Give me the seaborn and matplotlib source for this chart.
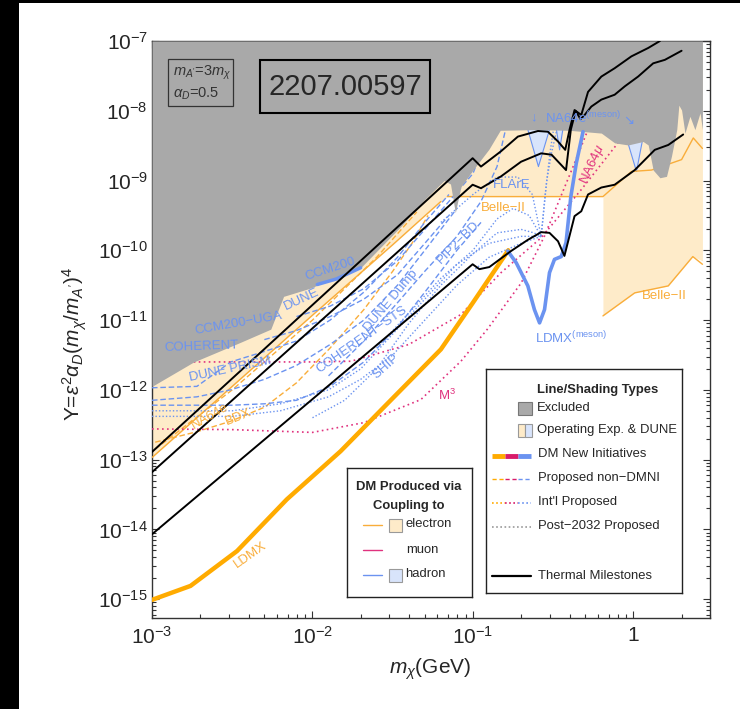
import numpy as np
import pandas as pd
import seaborn as sns
import matplotlib.pyplot as plt
from matplotlib.patches import Rectangle
from matplotlib.ticker import LogLocator, FuncFormatter, NullFormatter

sns.set_theme(style='ticks')
plt.rcParams['font.family'] = ['Liberation Sans', 'DejaVu Sans']
plt.rcParams['mathtext.fontset'] = 'custom'
plt.rcParams['mathtext.rm'] = 'Liberation Sans'
plt.rcParams['mathtext.it'] = 'Liberation Sans:italic'
plt.rcParams['mathtext.bf'] = 'Liberation Sans:bold'

# colours
GRAY = '#a9a9a9'
ORANGE = '#ffab00'
ORANGE_L = '#f9ad3a'
ORANGE_FILL = '#feebc9'
BLUE = '#6b93f0'
BLUE_FILL = '#d8e4fb'
PINK = '#e0327e'

# ---- data (log10 of m_chi in GeV, log10 of Y) ----
gray_lx = [-3.0, -2.74, -2.45, -2.26, -2.18, -2.01, -1.89, -1.7, -1.45, -1.3, -1.18, -1.14,
           -1.11, -1.075, -1.0, -0.9, -0.83, -0.6, -0.4, -0.2, -0.117, -0.033, 0.06, 0.092,
           0.123, 0.165, 0.206, 0.237, 0.27, 0.283, 0.3, 0.321, 0.352, 0.383, 0.415, 0.43]
gray_ly = [-11.95, -11.6, -11.32, -11.13, -10.66, -10.54, -10.42, -10.25, -9.66, -9.27, -9.0, -9.05,
           -9.46, -9.09, -8.85, -8.55, -8.28, -8.27, -8.28, -8.32, -8.46, -8.49, -8.44, -8.49,
           -8.85, -8.96, -8.94, -8.65, -8.27, -7.92, -7.99, -8.32, -8.08, -8.27, -8.03, -8.27]

oper_lx = [-3.0, -2.5, -2.0, -1.5, -1.3, -1.16, -0.19, -0.19, 0.008, 0.217, 0.37, 0.43]
oper_ly = [-12.97, -11.95, -10.93, -9.92, -9.5, -9.23, -9.23, -10.94, -10.61, -10.51, -10.09, -10.15]

hadron_v1_lx = [-0.658, -0.592, -0.523]
hadron_v1_ly = [-8.27, -8.80, -8.27]
hadron_v2_lx = [-0.48, -0.46, -0.44]
hadron_v2_ly = [-8.27, -8.56, -8.27]
hadron_v3_lx = [-0.033, 0.019, 0.054]
hadron_v3_ly = [-8.47, -8.87, -8.45]

belle_up_lx = [-1.16, -0.19, -0.0125, 0.1125, 0.3, 0.373, 0.43]
belle_up_ly = [-9.23, -9.23, -8.87, -8.85, -8.70, -8.39, -8.54]
belle_lo_lx = [-0.19, 0.008, 0.217, 0.37, 0.43]
belle_lo_ly = [-10.94, -10.61, -10.51, -10.09, -10.2]

na64e_lx = [-3.0, -2.5, -2.0, -1.5, -1.2]
na64e_ly = [-12.97, -11.95, -10.93, -9.92, -9.3]
bdx_lx = [-2.98, -2.72, -2.51, -2.3, -2.1, -1.89, -1.68, -1.5, -1.38, -1.28]
bdx_ly = [-12.75, -12.6, -12.45, -12.25, -11.9, -11.4, -10.85, -10.3, -9.9, -9.5]
e_dash2_lx = [-2.98, -2.5, -2.0, -1.6, -1.35]
e_dash2_ly = [-12.85, -12.0, -11.0, -10.1, -9.45]

ldmx_lx = [-3.0, -2.76, -2.47, -2.16, -1.825, -1.5, -1.2, -1.0, -0.78]
ldmx_ly = [-15.01, -14.81, -14.31, -13.57, -12.88, -12.12, -11.42, -10.75, -10.0]

ldmx_meson_lx = [-0.783, -0.73, -0.658, -0.617, -0.585, -0.554, -0.523, -0.492, -0.45,
                 -0.42, -0.39, -0.356, -0.314]
ldmx_meson_ly = [-10.01, -10.18, -10.51, -10.85, -11.04, -10.85, -10.32, -10.13, -10.09,
                 -9.89, -9.23, -8.75, -8.3]

ccm200_lx = [-1.97, -1.85, -1.7]
ccm200_ly = [-10.49, -10.41, -10.25]

coherent_lx = [-3.0, -2.72, -2.51, -2.3, -2.1, -1.89, -1.68, -1.47, -1.3, -1.15]
coherent_ly = [-11.97, -11.95, -11.6, -11.45, -11.3, -11.0, -10.6, -10.1, -9.6, -9.2]
ccm_uga_lx = [-2.3, -2.1, -1.89, -1.68, -1.47, -1.3, -1.15]
ccm_uga_ly = [-11.28, -11.15, -10.95, -10.7, -10.35, -9.9, -9.5]
dune_lx = [-2.1, -1.89, -1.68, -1.47, -1.3, -1.15, -1.0, -0.9]
dune_ly = [-10.95, -10.8, -10.55, -10.15, -9.7, -9.3, -8.9, -8.3]
prism_lx = [-3.0, -2.72, -2.51, -2.3, -2.1, -1.89, -1.68, -1.47, -1.3, -1.1]
prism_ly = [-12.15, -12.1, -12.0, -11.85, -11.65, -11.35, -11.0, -10.5, -10.0, -9.4]
sts_lx = [-3.0, -2.5, -2.3, -2.1, -1.89, -1.68, -1.47, -1.3, -1.1, -0.95]
sts_ly = [-12.22, -12.22, -12.2, -12.15, -11.95, -11.6, -11.1, -10.6, -10.0, -9.6]
dump_lx = [-1.9, -1.68, -1.47, -1.3, -1.1, -0.95, -0.85, -0.8]
dump_ly = [-11.8, -11.3, -10.75, -10.3, -9.8, -9.3, -8.8, -8.3]

ship_lx = [-2.0, -1.8, -1.6, -1.4, -1.2, -1.0, -0.85, -0.7, -0.62, -0.575]
ship_ly = [-12.4, -12.15, -11.7, -11.05, -10.5, -10.05, -9.75, -9.7, -9.75, -9.8]
dot1_lx = [-3.0, -2.5, -2.2, -1.9, -1.7, -1.5, -1.3, -1.1, -0.9, -0.7, -0.575]
dot1_ly = [-12.3, -12.3, -12.2, -12.0, -11.7, -11.2, -10.7, -10.2, -9.9, -9.8, -9.8]
dot2_lx = [-3.0, -2.5, -2.2, -1.9, -1.7, -1.5, -1.3, -1.1, -0.9, -0.7, -0.575]
dot2_ly = [-12.38, -12.38, -12.3, -12.1, -11.85, -11.5, -11.0, -10.5, -10.1, -9.9, -9.8]
pip2_lx = [-1.6, -1.4, -1.2, -1.0, -0.85, -0.75, -0.65, -0.575]
pip2_ly = [-11.4, -10.9, -10.4, -10.0, -9.55, -9.4, -9.5, -9.8]
flare_lx = [-1.2, -1.0, -0.85, -0.72, -0.63, -0.575]
flare_ly = [-9.6, -9.2, -8.95, -8.95, -9.2, -9.8]
rise1_lx = [-0.575, -0.55, -0.52, -0.5]
rise1_ly = [-9.8, -9.2, -8.6, -8.3]
rise2_lx = [-0.575, -0.54, -0.51, -0.48]
rise2_ly = [-9.8, -9.0, -8.6, -8.3]

m3_up_lx = [-2.74, -2.5, -2.0, -1.76, -1.4, -1.075, -0.825, -0.575, -0.325, -0.096]
m3_up_ly = [-11.6, -11.6, -11.6, -11.59, -11.35, -10.92, -10.32, -9.82, -9.13, -8.46]
m3_lo_lx = [-3.0, -2.5, -2.0, -1.68, -1.325, -1.075, -0.91, -0.7, -0.555, -0.367, -0.283]
m3_lo_ly = [-12.56, -12.57, -12.61, -12.47, -12.14, -11.59, -11.13, -10.47, -9.80, -8.75, -8.27]

thermA_lx = [-3.0, -1.002, -0.95, -0.825, -0.72, -0.595, -0.533, -0.47, -0.425, -0.398, -0.367,
             -0.325, -0.283, -0.2, -0.117, -0.0125, 0.092, 0.165]
thermA_ly = [-12.89, -8.68, -8.80, -8.58, -8.37, -8.29, -8.30, -8.44, -8.56, -8.27, -7.99,
             -8.06, -7.73, -7.51, -7.39, -7.22, -7.10, -7.0]
thermB_lx = [-3.0, -1.002, -0.95, -0.825, -0.7, -0.575, -0.51, -0.42, -0.39, -0.36, -0.33,
             -0.304, -0.2625, -0.2, -0.117, -0.054, 0.029, 0.123, 0.196, 0.3]
thermB_ly = [-13.18, -9.06, -9.11, -8.94, -8.73, -8.61, -8.63, -8.85, -8.27, -8.0, -8.12,
             -8.06, -7.94, -7.84, -7.77, -7.65, -7.51, -7.32, -7.27, -7.14]
thermC_lx = [-3.0, -1.002, -0.96, -0.898, -0.7625, -0.658, -0.575, -0.523, -0.47, -0.43,
             -0.367, -0.325, -0.283, -0.2, -0.117, 0.008, 0.133, 0.217, 0.31]
thermC_ly = [-14.07, -10.2, -10.27, -10.24, -10.01, -9.85, -9.74, -9.75, -9.87, -10.08,
             -9.51, -9.44, -9.2, -9.1, -9.06, -8.85, -8.56, -8.49, -8.34]

xtick_vals = [1e-3, 1e-2, 1e-1, 1]
xtick_text = [r'$10^{-3}$', r'$10^{-2}$', r'$10^{-1}$', '1']


def p10(v):
    return np.power(10.0, np.asarray(v, dtype=float))


fig = plt.figure(figsize=(7.40, 7.09), dpi=100)
fig.patch.set_facecolor('black')
fig.add_artist(Rectangle((19 / 740, 0), 1, 1 - 3 / 709, transform=fig.transFigure,
                         fc='white', ec='none', zorder=-10))
ax = fig.add_axes([152 / 740, 1 - 618 / 709, 558 / 740, 577 / 709])
ax.set_xscale('log')
ax.set_yscale('log')
ax.set_xlim(1e-3, 3.0)
ax.set_ylim(10 ** -15.27, 1e-7)


def curve(lx, ly, **kw):
    sns.lineplot(x=p10(lx), y=p10(ly), ax=ax, estimator=None, sort=False, legend=False, **kw)


# shaded regions
ax.fill_between(p10(oper_lx), p10(oper_ly), 1e-7, color=ORANGE_FILL, lw=0, zorder=1)
for vx, vy in [(hadron_v1_lx, hadron_v1_ly), (hadron_v2_lx, hadron_v2_ly), (hadron_v3_lx, hadron_v3_ly)]:
    ax.fill(p10(vx), p10(vy), color=BLUE_FILL, lw=0, zorder=1.5)
    ax.plot(p10(vx), p10(vy), color=BLUE, lw=0.8, zorder=1.6)
ax.fill_between(p10(gray_lx), p10(gray_ly), 1e-7, color=GRAY, lw=0, zorder=3.5)

# electron lines
curve(belle_up_lx, belle_up_ly, color=ORANGE_L, lw=1.0, zorder=3)
curve(belle_lo_lx, belle_lo_ly, color=ORANGE_L, lw=1.0, zorder=3)
curve(na64e_lx, na64e_ly, color=ORANGE_L, lw=1.0, zorder=3)
curve(bdx_lx, bdx_ly, color=ORANGE_L, lw=1.0, linestyle=(0, (4, 2)), zorder=3)
curve(e_dash2_lx, e_dash2_ly, color=ORANGE_L, lw=1.0, linestyle=(0, (4, 2)), zorder=3)

# hadron lines
for lx, ly in [(coherent_lx, coherent_ly), (ccm_uga_lx, ccm_uga_ly), (dune_lx, dune_ly),
               (prism_lx, prism_ly), (sts_lx, sts_ly), (dump_lx, dump_ly)]:
    curve(lx, ly, color=BLUE, lw=1.0, linestyle=(0, (4, 2)), zorder=3)
for lx, ly in [(ship_lx, ship_ly), (dot1_lx, dot1_ly), (dot2_lx, dot2_ly), (pip2_lx, pip2_ly),
               (flare_lx, flare_ly), (rise1_lx, rise1_ly), (rise2_lx, rise2_ly)]:
    curve(lx, ly, color=BLUE, lw=1.0, linestyle=(0, (1, 1.5)), zorder=3)

# muon lines
curve(m3_up_lx, m3_up_ly, color=PINK, lw=1.2, linestyle=(0, (1, 2)), zorder=3)
curve(m3_lo_lx, m3_lo_ly, color=PINK, lw=1.2, linestyle=(0, (1, 2)), zorder=3)

# DM new initiatives
curve(ccm200_lx, ccm200_ly, color=BLUE, lw=2.5, zorder=4)
curve(ldmx_lx, ldmx_ly, color=ORANGE, lw=3.2, zorder=4)
curve(ldmx_meson_lx, ldmx_meson_ly, color=BLUE, lw=2.6, zorder=4)

# thermal milestones
for lx, ly in [(thermA_lx, thermA_ly), (thermB_lx, thermB_ly), (thermC_lx, thermC_ly)]:
    curve(lx, ly, color='black', lw=1.4, zorder=5)
ax.set_xlabel('')
ax.set_ylabel('')


# curve labels
def lab(lx, ly, s, c, rot=0, fs=9.5, ha='center'):
    ax.text(10 ** lx, 10 ** ly, s, color=c, fontsize=fs, rotation=rot, ha=ha, va='center',
            rotation_mode='anchor', zorder=6)


lab(-1.89, -10.27, 'CCM200', BLUE, 18)
lab(-2.07, -10.70, 'DUNE', BLUE, 25)
lab(-2.46, -11.05, 'CCM200−UGA', BLUE, 10)
lab(-2.69, -11.38, 'COHERENT', BLUE, 2)
lab(-2.51, -11.71, 'DUNE PRISM', BLUE, 12)
lab(-2.64, -12.38, 'NA64e', ORANGE_L, 30)
lab(-2.46, -12.39, 'BDX', ORANGE_L, 22)
lab(-1.51, -10.73, 'DUNE Dump', BLUE, 50)
lab(-1.69, -11.28, 'COHERENT−STS', BLUE, 35)
lab(-1.54, -11.66, 'SHIP', BLUE, 42)
lab(-1.16, -12.08, 'M$^3$', PINK, 0)
lab(-1.094, -9.89, 'PIP2−BD', BLUE, 45)
lab(-0.76, -9.07, 'FLArE', BLUE, 0)
lab(-0.81, -9.39, 'Belle−II', ORANGE_L, 0)
lab(0.19, -10.66, 'Belle−II', ORANGE_L, 0)
lab(-0.256, -8.77, 'NA64$\\mu$', PINK, 65)
lab(-2.39, -14.37, 'LDMX', ORANGE_L, 35)
lab(-0.39, -11.25, 'LDMX$^{\\mathrm{(meson)}}$', BLUE, 0)
lab(-0.62, -8.1, '↓', BLUE, 0)
lab(-0.55, -8.1, 'NA64e$^{\\mathrm{(meson)}}$', BLUE, 0, ha='left')
lab(-0.03, -8.14, '↘', BLUE, 0)

# axes styling
ax.xaxis.set_major_locator(LogLocator(base=10, numticks=20))
ax.xaxis.set_minor_locator(LogLocator(base=10, subs=np.arange(2, 10), numticks=100))
ax.yaxis.set_major_locator(LogLocator(base=10, numticks=20))
ax.yaxis.set_minor_locator(LogLocator(base=10, subs=np.arange(2, 10), numticks=100))
ax.xaxis.set_major_formatter(FuncFormatter(
    lambda v, p: dict(zip([round(np.log10(t)) for t in xtick_vals], xtick_text)).get(round(np.log10(v)), '')))
ax.yaxis.set_major_formatter(FuncFormatter(lambda v, p: r'$10^{%d}$' % round(np.log10(v))))
ax.xaxis.set_minor_formatter(NullFormatter())
ax.yaxis.set_minor_formatter(NullFormatter())
ax.tick_params(which='both', direction='in', top=True, right=True, color='#333333', width=0.8)
ax.tick_params(which='major', length=5, labelsize=15, pad=3)
ax.tick_params(which='minor', length=3)
ax.tick_params(axis='x', which='major', pad=6)
for s in ax.spines.values():
    s.set_color('#333333')
    s.set_linewidth(1.0)

fig.text(75 / 740, 1 - 344 / 709, "Y=$\\epsilon^2\\alpha_D(m_\\chi/m_{A'})^4$", rotation=90,
         ha='center', va='center', fontsize=15)
fig.text(430 / 740, 1 - 669 / 709, '$m_\\chi$(GeV)', ha='center', va='center', fontsize=15)

# parameter box and arXiv box
ax.add_patch(Rectangle((0.0287, 0.887), 0.1165, 0.082, transform=ax.transAxes, fill=False,
                       ec='#333333', lw=0.9, zorder=7))
ax.text(0.0376, 0.9445, "$m_{A'}$=3$m_\\chi$", transform=ax.transAxes, fontsize=10.5,
        color='#333333', va='center', zorder=7)
ax.text(0.0376, 0.909, "$\\alpha_D$=0.5", transform=ax.transAxes, fontsize=10.5,
        color='#333333', va='center', zorder=7)
ax.add_patch(Rectangle((0.1935, 0.875), 0.3045, 0.092, transform=ax.transAxes, fill=False,
                       ec='black', lw=1.5, zorder=7))
ax.text(0.346, 0.921, '2207.00597', transform=ax.transAxes, fontsize=21, ha='center',
        va='center', zorder=7)

# legend: DM produced via coupling to
lg1 = fig.add_axes([347 / 740, 1 - 597 / 709, 125 / 740, 129 / 709])
lg1.set_xlim(0, 125)
lg1.set_ylim(129, 0)
lg1.set_xticks([])
lg1.set_yticks([])
for s in lg1.spines.values():
    s.set_color('#222222')
    s.set_linewidth(1.0)
lg1.text(62, 19, 'DM Produced via', fontsize=9.4, fontweight='bold', ha='center', va='center')
lg1.text(62, 38, 'Coupling to', fontsize=9.4, fontweight='bold', ha='center', va='center')
lg1.plot([16, 35], [57, 57], color=ORANGE_L, lw=1)
lg1.add_patch(Rectangle((42, 51), 13, 13, fc=ORANGE_FILL, ec='#999999', lw=0.8))
lg1.text(58, 56, 'electron', fontsize=9.4, va='center')
lg1.plot([16, 35], [82, 82], color=PINK, lw=1)
lg1.text(59, 82, 'muon', fontsize=9.4, va='center')
lg1.plot([16, 35], [107, 107], color=BLUE, lw=1)
lg1.add_patch(Rectangle((42, 101), 13, 13, fc=BLUE_FILL, ec='#999999', lw=0.8))
lg1.text(58, 106, 'hadron', fontsize=9.4, va='center')

# legend: line / shading types
lg2 = fig.add_axes([486 / 740, 1 - 593 / 709, 196 / 740, 224 / 709])
lg2.set_xlim(0, 196)
lg2.set_ylim(224, 0)
lg2.set_xticks([])
lg2.set_yticks([])
for s in lg2.spines.values():
    s.set_color('#222222')
    s.set_linewidth(1.0)
lg2.text(51, 21, 'Line/Shading Types', fontsize=9.4, fontweight='bold', va='center')
lg2.add_patch(Rectangle((32, 33), 14, 13, fc=GRAY, ec='#777777', lw=0.8))
lg2.text(51, 39, 'Excluded', fontsize=9.4, va='center')
lg2.add_patch(Rectangle((32, 55), 7, 13, fc=ORANGE_FILL, ec='#999999', lw=0.8))
lg2.add_patch(Rectangle((39, 55), 7, 13, fc=BLUE_FILL, ec='#999999', lw=0.8))
lg2.text(51, 61, 'Operating Exp. & DUNE', fontsize=9.4, va='center')
for (x0, x1), c in zip([(6, 19), (19, 32), (32, 45)], [ORANGE, '#d81b6a', BLUE]):
    lg2.plot([x0, x1], [87, 87], color=c, lw=3.5, solid_capstyle='butt')
    lg2.plot([x0, x1], [110, 110], color=c, lw=1, linestyle=(0, (3, 2)))
    lg2.plot([x0, x1], [134, 134], color=c, lw=1.2, linestyle=(0, (1, 1.5)))
lg2.text(52, 85, 'DM New Initiatives', fontsize=9.4, va='center')
lg2.text(52, 109, 'Proposed non−DMNI', fontsize=9.4, va='center')
lg2.text(52, 133, "Int'l Proposed", fontsize=9.4, va='center')
lg2.plot([6, 45], [158, 158], color='#999999', lw=1.2, linestyle=(0, (1, 1.5)))
lg2.text(52, 157, 'Post−2032 Proposed', fontsize=9.4, va='center')
lg2.plot([6, 45], [207, 207], color='black', lw=1.6)
lg2.text(52, 207, 'Thermal Milestones', fontsize=9.4, va='center')

fig.savefig('out.png', dpi=100)
